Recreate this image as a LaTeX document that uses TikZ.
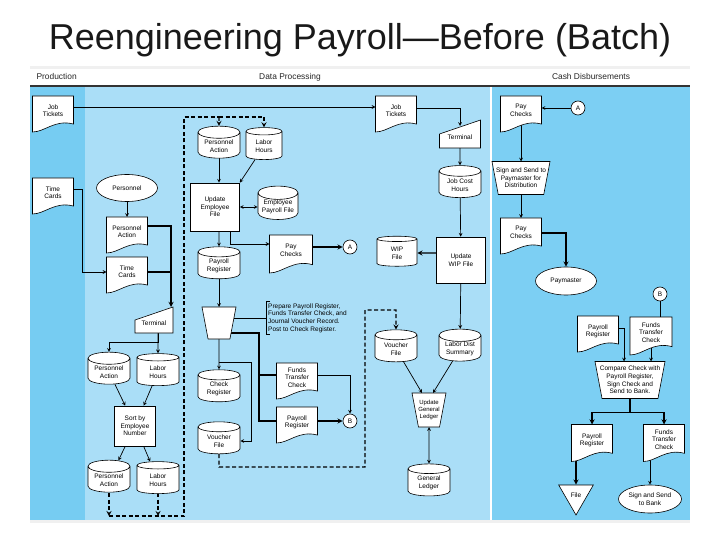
\documentclass[tikz,border=0pt]{standalone}
\usepackage{fontspec}
\setmainfont{Liberation Sans}
\usepackage{tikz}
\usetikzlibrary{shapes.geometric,calc}

\definecolor{prodblue}{RGB}{118,204,242}
\definecolor{dpblue}{RGB}{170,222,247}
\definecolor{cashblue}{RGB}{124,207,243}

\pgfdeclarelayer{lanes}
\pgfdeclarelayer{links}
\pgfsetlayers{lanes,links,main}

\makeatletter
\newdimen\shpxa \newdimen\shpya \newdimen\shpxb \newdimen\shpyb
\newdimen\shpw \newdimen\shph
\def\shpbox{%
  \southwest \shpxa=\pgf@x \shpya=\pgf@y
  \northeast \shpxb=\pgf@x \shpyb=\pgf@y
  \shpw=\shpxb \advance\shpw by -\shpxa
  \shph=\shpyb \advance\shph by -\shpya}
% document symbol (wavy bottom)
\pgfdeclareshape{docshape}{%
  \inheritsavedanchors[from=rectangle]
  \inheritanchorborder[from=rectangle]
  \inheritanchor[from=rectangle]{center}
  \inheritanchor[from=rectangle]{mid}
  \inheritanchor[from=rectangle]{base}
  \inheritanchor[from=rectangle]{north}
  \inheritanchor[from=rectangle]{south}
  \inheritanchor[from=rectangle]{east}
  \inheritanchor[from=rectangle]{west}
  \inheritanchor[from=rectangle]{north east}
  \inheritanchor[from=rectangle]{north west}
  \inheritanchor[from=rectangle]{south east}
  \inheritanchor[from=rectangle]{south west}
  \backgroundpath{%
    \shpbox
    \pgfpathmoveto{\pgfqpoint{\shpxa}{\shpya}}%
    \pgfpathlineto{\pgfqpoint{\shpxa}{\shpyb}}%
    \pgfpathlineto{\pgfqpoint{\shpxb}{\shpyb}}%
    \pgfpathlineto{\pgfpoint{\shpxb}{\shpya+0.22*\shph}}%
    \pgfpathcurveto{\pgfpoint{\shpxa+0.55*\shpw}{\shpya+0.36*\shph}}%
      {\pgfpoint{\shpxa+0.3*\shpw}{\shpya}}%
      {\pgfqpoint{\shpxa}{\shpya}}%
    \pgfpathclose}%
}
% manual input (terminal)
\pgfdeclareshape{termshape}{%
  \inheritsavedanchors[from=rectangle]
  \inheritanchorborder[from=rectangle]
  \inheritanchor[from=rectangle]{center}
  \inheritanchor[from=rectangle]{mid}
  \inheritanchor[from=rectangle]{base}
  \inheritanchor[from=rectangle]{north}
  \inheritanchor[from=rectangle]{south}
  \inheritanchor[from=rectangle]{east}
  \inheritanchor[from=rectangle]{west}
  \inheritanchor[from=rectangle]{north east}
  \inheritanchor[from=rectangle]{north west}
  \inheritanchor[from=rectangle]{south east}
  \inheritanchor[from=rectangle]{south west}
  \backgroundpath{%
    \shpbox
    \pgfpathmoveto{\pgfqpoint{\shpxa}{\shpya}}%
    \pgfpathlineto{\pgfqpoint{\shpxb}{\shpya}}%
    \pgfpathlineto{\pgfqpoint{\shpxb}{\shpyb}}%
    \pgfpathlineto{\pgfpoint{\shpxa}{\shpyb-0.5*\shph}}%
    \pgfpathclose}%
}
% manual operation
\pgfdeclareshape{manopshape}{%
  \inheritsavedanchors[from=rectangle]
  \inheritanchorborder[from=rectangle]
  \inheritanchor[from=rectangle]{center}
  \inheritanchor[from=rectangle]{mid}
  \inheritanchor[from=rectangle]{base}
  \inheritanchor[from=rectangle]{north}
  \inheritanchor[from=rectangle]{south}
  \inheritanchor[from=rectangle]{east}
  \inheritanchor[from=rectangle]{west}
  \inheritanchor[from=rectangle]{north east}
  \inheritanchor[from=rectangle]{north west}
  \inheritanchor[from=rectangle]{south east}
  \inheritanchor[from=rectangle]{south west}
  \backgroundpath{%
    \shpbox
    \pgfpathmoveto{\pgfqpoint{\shpxa}{\shpyb}}%
    \pgfpathlineto{\pgfqpoint{\shpxb}{\shpyb}}%
    \pgfpathlineto{\pgfpoint{\shpxb-0.19*\shph}{\shpya}}%
    \pgfpathlineto{\pgfpoint{\shpxa+0.19*\shph}{\shpya}}%
    \pgfpathclose}%
}
\makeatother

\tikzset{
  lbl/.style={font=\fontsize{6.5}{7.6}\selectfont, align=center},
  docu/.style={lbl, shape=docshape, draw, fill=white, line width=0.6pt, outer sep=0pt,
    minimum width=41pt, minimum height=36pt, inner sep=1pt, text depth=7pt},
  term/.style={lbl, shape=termshape, draw, fill=white, line width=0.6pt, outer sep=0pt,
    minimum width=38pt, minimum height=26pt, inner sep=1pt, text height=11pt},
  manop/.style={lbl, shape=manopshape, draw, fill=white, line width=0.6pt, outer sep=0pt,
    inner sep=0.5pt},
  disk/.style={lbl, cylinder, shape border rotate=90, shape aspect=0.4, draw, fill=white,
    line width=0.6pt, minimum width=42pt, minimum height=32pt, inner sep=0.5pt},
  proc/.style={lbl, rectangle, draw, fill=white, line width=0.6pt},
  oval/.style={lbl, ellipse, draw, fill=white, line width=0.6pt, minimum width=61pt,
    minimum height=27pt, inner sep=0pt},
  conn/.style={circle, draw, fill=white, line width=0.6pt, minimum size=14pt, inner sep=0pt,
    font=\fontsize{6.5}{7}\selectfont},
  filetri/.style={lbl, regular polygon, regular polygon sides=3, shape border rotate=180,
    draw, fill=white, line width=0.6pt, minimum size=40pt, inner sep=0pt},
  remark/.style={lbl, align=left, anchor=west, inner sep=2pt},
  lanehead/.style={font=\fontsize{8.4}{10}\selectfont, text=black!85},
  flow/.style={line width=0.7pt, -stealth},
  heavy/.style={line width=1.3pt},
  dashline/.style={line width=1.2pt, dash pattern=on 4pt off 2.5pt}
}

\begin{document}
\begin{tikzpicture}[x=1pt,y=-1pt]
\useasboundingbox (0,0) rectangle (720,540);

\node[font=\fontsize{36}{40}\selectfont, text=black!90, anchor=base] (title) at (360,50)
  {Reengineering Payroll—Before (Batch)};

% lanes
\begin{pgfonlayer}{lanes}
\fill[gray!12] (30,66) rectangle (690,69);
\fill[white] (30,69) rectangle (690,86);
\fill[prodblue] (30,86) rectangle (85,520);
\fill[dpblue] (85,86) rectangle (490,520);
\fill[cashblue] (490,86) rectangle (690,520);
\draw[white, line width=1.5pt] (491,86) -- (491,520);
\fill[gray!12] (30,520) rectangle (690,523);
\draw[black!80, line width=1.6pt] (30,86) -- (690,86);
\end{pgfonlayer}
\node[lanehead, anchor=west] (hprod) at (33,77) {Production};
\node[lanehead] (hdp) at (290,77) {Data Processing};
\node[lanehead] (hcash) at (591,77) {Cash Disbursements};

% production
\node[docu] (jt1) at (53,114) {Job\\Tickets};
\node[docu] (tc1) at (53,196) {Time\\Cards};

% data processing, left
\node[oval] (pers) at (127,188) {Personnel};
\node[docu] (pa1) at (127,235) {Personnel\\Action};
\node[docu] (tc2) at (127,275) {Time\\Cards};
\node[term] (term1) at (154,320) {Terminal};
\node[disk] (pa2) at (109,372) {Personnel\\Action};
\node[disk] (lh2) at (158,372) {Labor\\Hours};
\node[proc, minimum width=41pt, minimum height=40pt] (sort) at (135,426) {Sort by\\Employee\\Number};
\node[disk] (pa3) at (109,480) {Personnel\\Action};
\node[disk] (lh3) at (158,480) {Labor\\Hours};
\coordinate (dl) at (184,516);
\coordinate (dt) at (184,117);

% data processing, middle
\node[disk] (pa4) at (219,146) {Personnel\\Action};
\node[disk, minimum width=36pt] (lh4) at (264,146) {Labor\\Hours};
\node[proc, minimum width=49pt, minimum height=48pt] (upd) at (215,207) {Update\\Employee\\File};
\node[disk, minimum width=40pt] (epf) at (278,207) {Employee\\Payroll File};
\node[disk] (prc) at (219,266) {Payroll\\Register};
\node[docu, minimum width=43pt, minimum height=38pt] (pc1) at (291,254) {Pay\\Checks};
\node[conn] (ca1) at (350,247) {A};
\node[manop, minimum width=34pt, minimum height=32pt] (mop) at (219,323) {};
\node[remark] (note) at (266,318) {Prepare Payroll Register,\\Funds Transfer Check, and\\Journal Voucher Record.\\Post to Check Register.};
\draw[line width=0.7pt] ($(note.north west)+(4,0)$) -- (note.north west) -- (note.south west) -- ($(note.south west)+(4,0)$);
\coordinate (m1) at (259,333);
\node[disk] (chk) at (219,389) {Check\\Register};
\node[disk] (vf1) at (219,441) {Voucher\\File};
\node[docu] (ftc1) at (297,381) {Funds\\Transfer\\Check};
\node[docu] (prd1) at (297,425) {Payroll\\Register};
\node[conn] (cb1) at (350,421) {B};
\coordinate (vb) at (365,467);

% data processing, right
\node[docu] (jt2) at (396,114) {Job\\Tickets};
\node[term, minimum width=41pt, minimum height=28pt] (term2) at (460,134) {Terminal};
\node[disk] (jch) at (460,185) {Job Cost\\Hours};
\node[proc, minimum width=49pt, minimum height=46pt] (wipu) at (461,260) {Update\\WIP File};
\node[disk, minimum width=40pt, minimum height=30pt] (wipf) at (397,253) {WIP\\File};
\node[disk] (vf2) at (396,349) {Voucher\\File};
\node[disk] (lds) at (460,349) {Labor Dist\\Summary};
\node[manop, minimum width=34pt, minimum height=34pt, font=\fontsize{6}{7}\selectfont] (ugl) at (429,410) {Update\\General\\Ledger};
\node[disk] (gl) at (429,483) {General\\Ledger};

% cash disbursements
\node[docu] (pc2) at (521,114) {Pay\\Checks};
\node[conn] (ca2) at (578,108) {A};
\node[manop, minimum width=58pt, minimum height=33pt] (sgn) at (521,178) {Sign and Send to\\Paymaster for\\Distribution};
\node[docu] (pc3) at (521,236) {Pay\\Checks};
\node[oval, minimum height=28pt] (paym) at (566,281) {Paymaster};
\node[conn] (cb2) at (660,294) {B};
\node[docu] (prd2) at (598,334) {Payroll\\Register};
\node[docu, minimum width=42pt, minimum height=38pt] (ftc2) at (651,336) {Funds\\Transfer\\Check};
\node[manop, minimum width=70pt, minimum height=37pt] (cmp) at (630,380) {Compare Check with\\Payroll Register,\\Sign Check and\\Send to Bank.};
\node[docu, minimum height=37pt] (prd3) at (592,443) {Payroll\\Register};
\node[docu, minimum height=37pt] (ftc3) at (664,443) {Funds\\Transfer\\Check};
\node[filetri] (file) at (576,495) {File};
\node[oval, minimum width=63pt, minimum height=28pt] (sbk) at (650,499) {Sign and Send\\to Bank};

\begin{pgfonlayer}{links}
\draw[flow] ($(jt1.east)+(0,-7)$) -- ($(jt2.west)+(0,-7)$);
\draw[flow] ($(tc1.east)+(0,-7)$) -- ++(9,0) |- ($(tc2.west)+(0,-3)$);
\draw[flow] (pers) -- (pa1);
\draw[flow,heavy] ($(pa1.east)+(0,-9)$) -| ($(term1.north east)+(-2,0)$);
\draw[heavy] ($(tc2.east)+(0,-3)$) -| ($(term1.north east)+(-2,-14)$);
\draw[flow] (term1.south -| lh2) -- (lh2);
\draw[flow] (term1.south -| lh2) -- ++(0,9) -| (pa2);
\draw[flow] (pa2) -- (sort);
\draw[flow] (lh2) -- (sort);
\draw[flow] (sort) -- (pa3);
\draw[flow] (sort) -- (lh3);
\draw[dashline,-stealth] (pa3.center) -- (pa3 |- dl);
\draw[dashline,-stealth] (lh3.center) -- (lh3 |- dl);
\draw[dashline] (pa3 |- dl) -- (dl) -- (dt) -- (pa4 |- dt);
\draw[dashline,-stealth] (pa4 |- dt) -- (pa4);
\draw[dashline,-stealth] (pa4 |- dt) -| (lh4);
\draw[flow] (pa4) -- (pa4 |- upd.north);
\draw[flow] (lh4) -- (upd.north east);
\draw[flow,stealth-stealth] (upd) -- (epf);
\draw[flow] (prc |- upd.south) -- (prc);
\draw[flow] ($(upd.south)+(15,0)$) |- ($(pc1.west)+(0,-10)$);
\draw[flow,heavy] ($(pc1.east)+(0,-7)$) -- (ca1);
\draw[flow] (prc) -- (mop);
\draw[line width=0.7pt] (mop.center |- note.west) -- (note.west);
\draw[heavy] (mop.center |- m1) -- (m1) |- ($(prd1.west)+(0,-4)$);
\draw[heavy] ($(m1 |- ftc1.west)+(0,-6)$) -- ($(ftc1.west)+(0,-6)$);
\draw[flow] (mop) -- (chk);
\draw[flow] ($(mop.south)+(0,23)$) -- ++(32,0) |- (vf1);
\draw[dashline,-stealth] (vf1.center) |- (vb) |- ($(vf2 |- vb)+(0,-157)$) -- (vf2);
\draw[flow] ($(ftc1.east)+(0,-6)$) -| (cb1);
\draw[flow,heavy] ($(prd1.east)+(0,-4)$) -- (cb1);
\draw[flow] ($(jt2.east)+(0,-6)$) -| ($(term2.north)+(0,6)$);
\draw[flow] (term2.south) -- (jch);
\draw[flow] (jch) -- (wipu);
\draw[flow,heavy] (wipu.west |- wipf) -- (wipf);
\draw[flow] (wipu) -- (lds);
\draw[flow] (vf2) -- ($(ugl.north)+(-7,0)$);
\draw[flow] (lds) -- ($(ugl.north)+(4,0)$);
\draw[flow,stealth-stealth] (ugl) -- (gl);
\draw[flow] (ca2) -- ($(pc2.east)+(0,-6)$);
\draw[flow] (pc2.center) -- (sgn);
\draw[flow] (sgn) -- (pc3);
\draw[flow,heavy] ($(pc3.east)+(0,-3)$) -| (paym);
\draw[line width=0.7pt] (cb2) -- (cb2 |- ftc2.north);
\draw[flow] ($(prd2.east)+(0,-6)$) -| ($(cmp.north)+(-6,0)$);
\draw[flow] (ftc2.center) -- (ftc2.center |- cmp.north);
\draw[flow,heavy] (cmp.south) -- ++(0,14) -| (prd3.north);
\draw[flow,heavy] (cmp.south) ++(0,14) -| (ftc3.north);
\draw[flow,heavy] (prd3.center -| file) -- (file);
\draw[flow] (ftc3.center -| sbk) -- (sbk);
\end{pgfonlayer}
\end{tikzpicture}
\end{document}
